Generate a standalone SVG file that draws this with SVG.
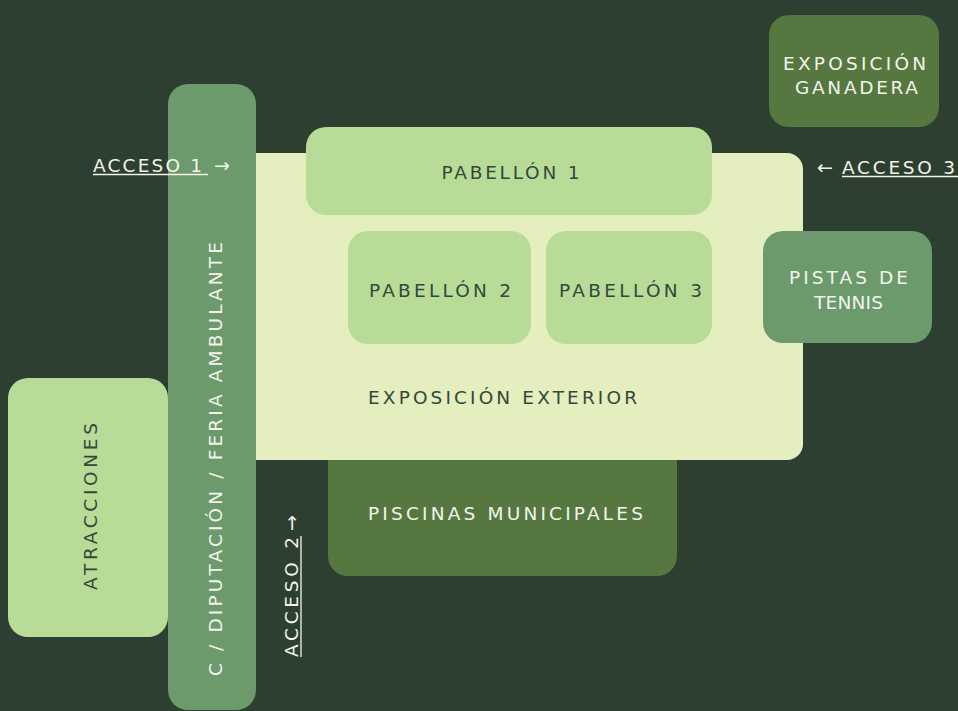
<svg xmlns="http://www.w3.org/2000/svg" width="958" height="711" viewBox="0 0 958 711">
<style>
text{font-family:"DejaVu Sans","Liberation Sans",sans-serif;font-size:18.5px}
.dk{fill:#34483a}
.lt{fill:#f2f4ec}
.ar{font-size:19px}
.ul{stroke:#f2f4ec;stroke-width:1.3}
.light{fill:#b8dc98}
.mid{fill:#6c9a6c}
.olive{fill:#567840}
.ext{fill:#e5eebf}
</style>
<rect width="958" height="711" fill="#2c3f31"/>
<g id="piscinas">
<rect class="olive" x="328" y="430" width="349" height="146" rx="20"/>
<text class="lt" x="368" y="520" textLength="275" lengthAdjust="spacing">PISCINAS MUNICIPALES</text>
</g>
<g id="exterior">
<rect class="ext" x="236" y="153" width="567" height="307" rx="16"/>
<text class="dk" x="368" y="404" textLength="269" lengthAdjust="spacing">EXPOSICIÓN EXTERIOR</text>
</g>
<g id="pabellon1">
<rect class="light" x="306" y="127" width="406" height="88" rx="20"/>
<text class="dk" x="510.5" y="179" text-anchor="middle" textLength="138" lengthAdjust="spacing">PABELLÓN 1</text>
</g>
<g id="pabellon2">
<rect class="light" x="348" y="231" width="183" height="113" rx="20"/>
<text class="dk" x="440" y="297" text-anchor="middle" textLength="142" lengthAdjust="spacing">PABELLÓN 2</text>
</g>
<g id="pabellon3">
<rect class="light" x="546" y="231" width="166" height="113" rx="20"/>
<text class="dk" x="630.5" y="297" text-anchor="middle" textLength="143" lengthAdjust="spacing">PABELLÓN 3</text>
</g>
<g id="pistas">
<rect class="mid" x="763" y="231" width="169" height="112" rx="20"/>
<text class="lt" x="848.5" y="284" text-anchor="middle" textLength="119" lengthAdjust="spacing">PISTAS DE</text>
<text class="lt" x="848.5" y="309" text-anchor="middle" textLength="69" lengthAdjust="spacing">TENNIS</text>
</g>
<g id="ganadera">
<rect class="olive" x="769" y="15" width="170" height="112" rx="20"/>
<text class="lt" x="854.5" y="70" text-anchor="middle" textLength="143" lengthAdjust="spacing">EXPOSICIÓN</text>
<text class="lt" x="856.5" y="94" text-anchor="middle" textLength="123" lengthAdjust="spacing">GANADERA</text>
</g>
<g id="atracciones">
<rect class="light" x="8" y="378" width="160" height="259" rx="20"/>
<text class="dk" transform="translate(97,506.5) rotate(-90)" text-anchor="middle" textLength="167" lengthAdjust="spacing">ATRACCIONES</text>
</g>
<g id="calle">
<rect class="mid" x="168" y="84" width="88" height="626" rx="20"/>
<text class="lt" transform="translate(222,676) rotate(-90)" textLength="434" lengthAdjust="spacing">C / DIPUTACIÓN  /  FERIA AMBULANTE</text>
</g>
<g id="accesos">
<text class="lt" x="93" y="172" textLength="109" lengthAdjust="spacing">ACCESO 1</text>
<line class="ul" x1="93" y1="174.5" x2="208" y2="174.5"/>
<text class="lt ar" x="214" y="172">→</text>
<text class="lt ar" x="817" y="174">←</text>
<text class="lt" x="842" y="174" textLength="113" lengthAdjust="spacing">ACCESO 3</text>
<line class="ul" x1="842" y1="176.5" x2="958" y2="176.5"/>
<g transform="translate(298,657) rotate(-90)">
<text class="lt" x="0" y="0" textLength="120" lengthAdjust="spacing">ACCESO 2</text>
<line class="ul" x1="0" y1="3" x2="121" y2="3"/>
<text class="lt ar" x="126" y="0">→</text>
</g>
</g>
</svg>
